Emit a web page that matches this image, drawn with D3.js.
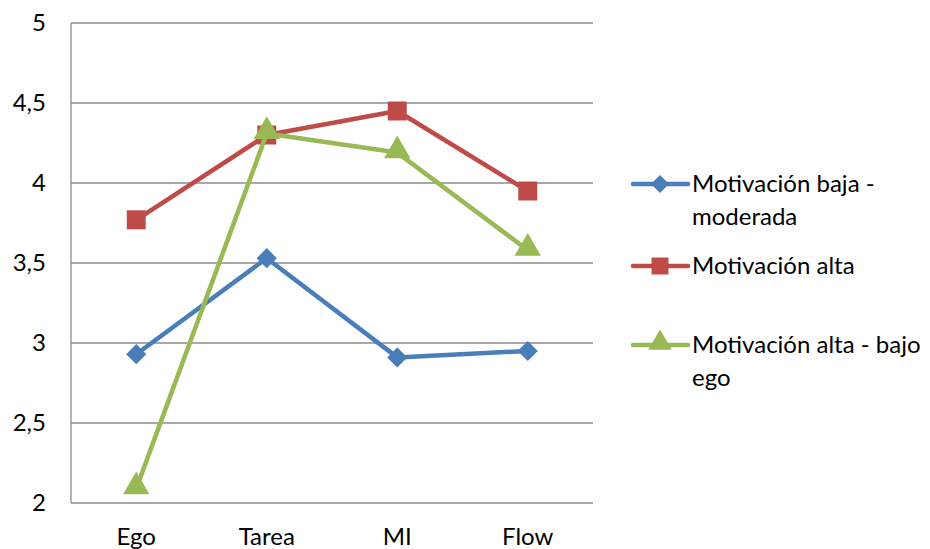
<!DOCTYPE html>
<html><head><meta charset="utf-8">
<script src="https://cdn.jsdelivr.net/npm/d3@7"></script>
<style>body{margin:0;background:#fff}svg{font-family:Lato,"Open Sans",sans-serif}</style>
</head><body><svg id="c" width="930" height="549"></svg>
<script>
const categories = ["Ego","Tarea","MI","Flow"];
const seriesNames = ["Motivación baja - moderada","Motivación alta","Motivación alta - bajo ego"];
const baja = [2.93,3.53,2.91,2.95];
const alta = [3.77,4.30,4.45,3.95];
const altaBajoEgo = [2.09,4.31,4.19,3.58];
const yTicks = [2,2.5,3,3.5,4,4.5,5];
const yTickLabels = ["2","2,5","3","3,5","4","4,5","5"];

const colors = ["#4a7ebb","#be4b48","#98b954"];
const symbols = [d3.symbolDiamond2, d3.symbolSquare, d3.symbolTriangle];
const svg = d3.select("#c");
const L=71,R=593,T=23,B=503;
const FS=24;
const x = d3.scaleBand().domain(categories).range([L,R]);
const y = d3.scaleLinear().domain([2,5]).range([B,T]);

svg.append("g").selectAll("line").data(yTicks).join("line")
  .attr("x1",L).attr("x2",R).attr("y1",d=>y(d)).attr("y2",d=>y(d))
  .attr("stroke","#8c8c8c").attr("stroke-width",1.3);
svg.append("line").attr("x1",L).attr("x2",L).attr("y1",T).attr("y2",B).attr("stroke","#8c8c8c").attr("stroke-width",1.3);

svg.append("g").selectAll("text").data(yTicks).join("text")
  .attr("x",46).attr("y",d=>y(d)).attr("dy","0.35em").attr("text-anchor","end")
  .attr("font-size",FS).attr("fill","#000").text((d,i)=>yTickLabels[i]);
svg.append("g").selectAll("text").data(categories).join("text")
  .attr("x",d=>x(d)+x.bandwidth()/2).attr("y",545).attr("text-anchor","middle")
  .attr("font-size",FS).attr("fill","#000").text(d=>d);

const data=[baja,alta,altaBajoEgo];
const line=d3.line().x((d,i)=>x(categories[i])+x.bandwidth()/2).y(d=>y(d));
const sizes=[260,360,300];
data.forEach((s,k)=>{
  svg.append("path").datum(s).attr("d",line).attr("fill","none")
    .attr("stroke",colors[k]).attr("stroke-width",4.5).attr("stroke-linejoin","round");
  svg.append("g").selectAll("path").data(s).join("path")
    .attr("d",d3.symbol(symbols[k],sizes[k]))
    .attr("transform",(d,i)=>`translate(${x(categories[i])+x.bandwidth()/2},${y(d)+(k==2?-2:0)})`)
    .attr("fill",colors[k]);
});

const legendRows=[{y:184,lines:["Motivación baja -","moderada"]},{y:266,lines:["Motivación alta"]},{y:345,lines:["Motivación alta - bajo","ego"]}];
legendRows.forEach((r,k)=>{
  const g=svg.append("g");
  g.append("line").attr("x1",633).attr("x2",688).attr("y1",r.y).attr("y2",r.y)
    .attr("stroke",colors[k]).attr("stroke-width",4.5).attr("stroke-linecap","round");
  g.append("path").attr("d",d3.symbol(symbols[k],sizes[k]*0.8))
    .attr("transform",`translate(660,${r.y+(k==2?-2:0)})`).attr("fill",colors[k]);
  r.lines.forEach((t,j)=>g.append("text").attr("x",692).attr("y",r.y+j*33).attr("dy","0.35em")
    .attr("font-size",FS).attr("fill","#000").text(t));
});
</script></body></html>
